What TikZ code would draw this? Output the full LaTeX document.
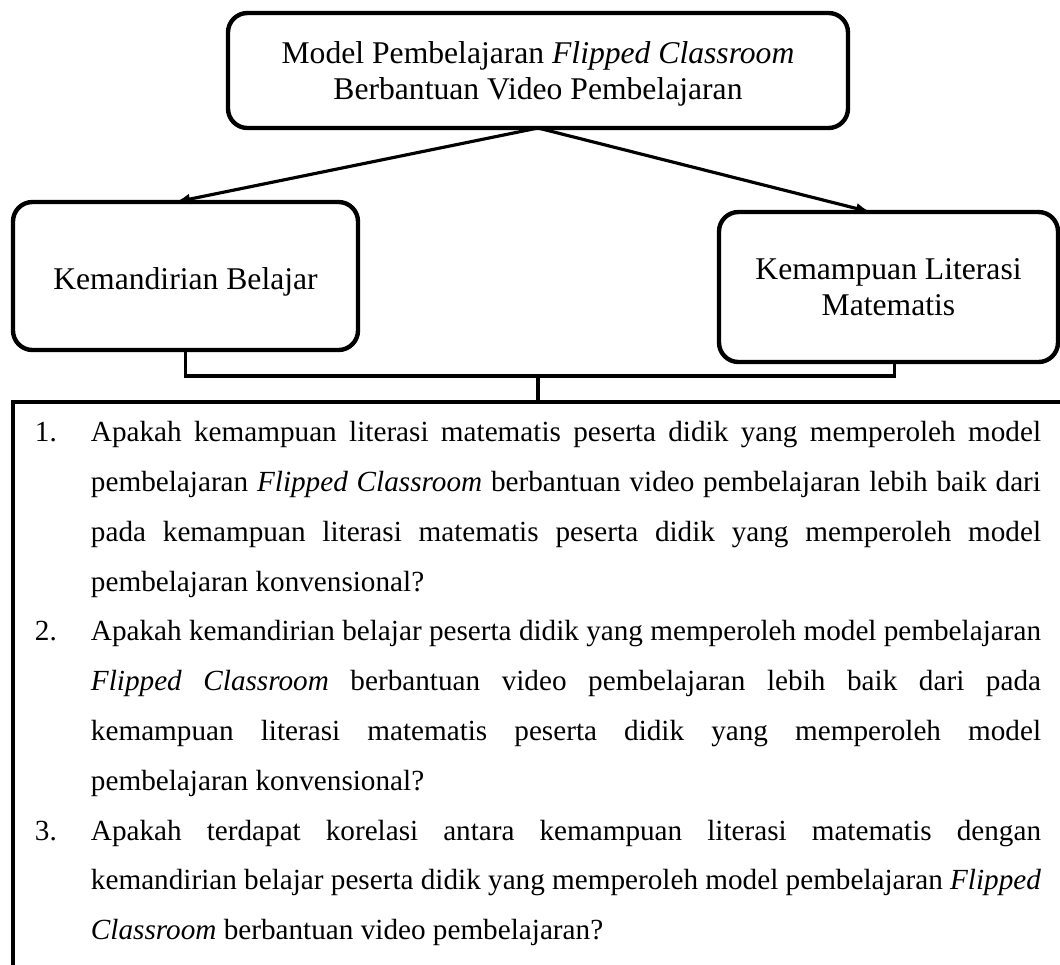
\documentclass[tikz,border=0pt]{standalone}
\usepackage{fontspec}
\setmainfont{Liberation Serif}
\usepackage{tikz}
\usetikzlibrary{arrows.meta}

\newlength{\pxl}
\setlength{\pxl}{0.411pt}
\newcommand{\qitem}[1]{\hangindent=56\pxl\hangafter=1\noindent\makebox[56\pxl][l]{#1}\ignorespaces}

\begin{document}
\begin{tikzpicture}[x=0.411pt, y=-0.411pt,
    rbox/.style={draw, line width=1.8pt, rounded corners=8pt, align=center, outer sep=0pt,
      text depth=-4pt, font=\fontsize{13}{14.7}\selectfont},
    qbox/.style={draw, line width=1.5pt, outer sep=0pt, inner xsep=22*\pxl, inner ysep=8pt,
      anchor=north west},
    arr/.style={line width=1.3pt, -{Latex[length=6pt,width=4.5pt]}},
    link/.style={line width=1.3pt}]
    \useasboundingbox (0,0) rectangle (1060,965);
    \node[rbox, minimum width=620*\pxl, minimum height=115*\pxl] (mdl) at (538, 70.5)
      {Model Pembelajaran \textit{Flipped Classroom}\\ Berbantuan Video Pembelajaran};
    \node[rbox, text height=11pt, text depth=0pt, minimum width=345*\pxl, minimum height=148*\pxl]
      (kb) at (185.5, 276) {Kemandirian Belajar};
    \node[rbox, minimum width=339*\pxl, minimum height=150*\pxl] (lit) at (888.5, 287)
      {Kemampuan Literasi\\ Matematis};
    \node[qbox] (qs) at (13, 402) {%
      \begin{minipage}[t][262pt][t]{1006\pxl}
        \fontsize{12}{20.47}\selectfont
        \hyphenpenalty=10000 \exhyphenpenalty=10000 \tolerance=10000 \hbadness=10000
        \parindent=0pt \parskip=0pt
        \qitem{1.}Apakah kemampuan literasi matematis peserta didik yang memperoleh model\linebreak
        pembelajaran \textit{Flipped Classroom} berbantuan video pembelajaran lebih baik dari\linebreak
        pada kemampuan literasi matematis peserta didik yang memperoleh model\linebreak
        pembelajaran konvensional?\par
        \qitem{2.}Apakah kemandirian belajar peserta didik yang memperoleh model pembelajaran\linebreak
        \textit{Flipped Classroom} berbantuan video pembelajaran lebih baik dari pada\linebreak
        kemampuan literasi matematis peserta didik yang memperoleh model\linebreak
        pembelajaran konvensional?\par
        \qitem{3.}Apakah terdapat korelasi antara kemampuan literasi matematis dengan\linebreak
        kemandirian belajar peserta didik yang memperoleh model pembelajaran \textit{Flipped}\linebreak
        \textit{Classroom} berbantuan video pembelajaran?\par
      \end{minipage}};
    \coordinate (hub) at (538, 377);
    \draw [arr] (mdl.south) to ([xshift=-10*\pxl]kb.north);
    \draw [arr] (mdl.south) to ([xshift=-18*\pxl]lit.north);
    \draw [link] (kb.south) -- ++(0, 26) -| ([xshift=6*\pxl]lit.south);
    \draw [link] (hub) -- (qs.north);
\end{tikzpicture}
\end{document}
